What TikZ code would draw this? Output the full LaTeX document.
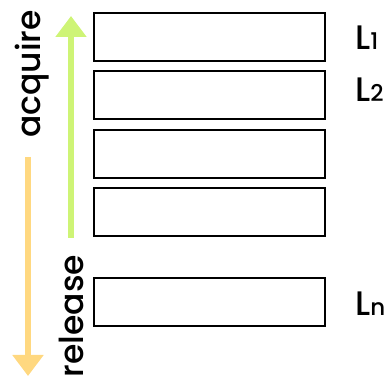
\documentclass[tikz,border=0pt]{standalone}
\usepackage{fontspec}
\setmainfont{Poppins}[UprightFont=* Medium]
\usetikzlibrary{arrows.meta}
\definecolor{chalkgreen}{RGB}{206,244,118}
\definecolor{chalkorange}{RGB}{255,216,128}
\tikzset{
  lock/.style={draw=black, line width=2pt, minimum width=231pt, minimum height=48pt, inner sep=0pt},
  lvl/.style={anchor=base west, inner sep=0pt, font=\fontsize{34}{34}\selectfont},
  side/.style={rotate=90, anchor=base, inner sep=0pt, font=\fontsize{33}{33}\selectfont},
  chalk/.style={line width=6pt, -{Triangle[width=30pt,length=21pt]}}
}
\newcommand{\lsub}[1]{{\fontsize{23}{23}\selectfont #1}}
\begin{document}
\begin{tikzpicture}[x=1pt,y=-1pt]
  \useasboundingbox (0,0) rectangle (389,379);
  % lock list
  \node[lock] (b1) at (209,37) {};
  \node[lock] (b2) at (209,95) {};
  \node[lock] (b3) at (209,154) {};
  \node[lock] (b4) at (209,212) {};
  \node[lock] (b5) at (209,302) {};
  % level labels
  \node[lvl] (l1) at (355,50) {L\lsub{1}};
  \node[lvl] (l2) at (355,102) {L\lsub{2}};
  \node[lvl] (ln) at (355,316) {L\lsub{n}};
  % order arrows
  \coordinate (gs) at (71,238);
  \coordinate (ge) at (71,16);
  \draw[chalk, draw=chalkgreen, fill=chalkgreen] (gs) -- (ge);
  \coordinate (os) at (28,157);
  \coordinate (oe) at (28,376);
  \draw[chalk, draw=chalkorange, fill=chalkorange] (os) -- (oe);
  % direction words
  \node[side] (acq) at (41,74) {acquire};
  \node[side] (rel) at (83,316) {release};
\end{tikzpicture}
\end{document}
